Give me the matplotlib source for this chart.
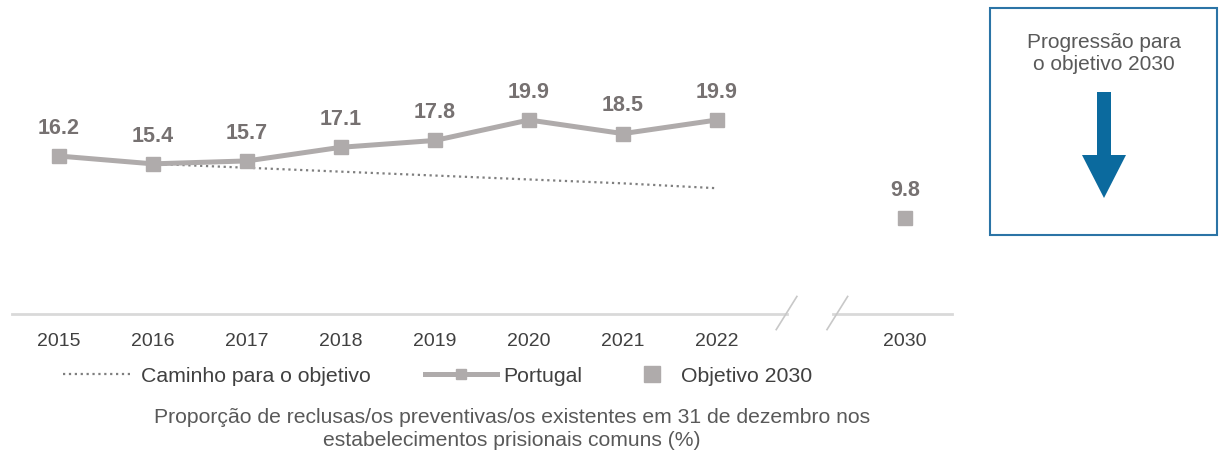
import matplotlib.pyplot as plt
from matplotlib.lines import Line2D
from matplotlib.patches import Rectangle, FancyArrow

plt.rcParams['font.family'] = ['Liberation Sans', 'DejaVu Sans']

# Data
years = ['2015', '2016', '2017', '2018', '2019', '2020', '2021', '2022']
portugal = [16.2, 15.4, 15.7, 17.1, 17.8, 19.9, 18.5, 19.9]
path_years = ['2016', '2017', '2018', '2019', '2020', '2021', '2022']
path_values = [15.4, 15.0, 14.6, 14.2, 13.8, 13.4, 12.9]
target_year = '2030'
target_value = 9.8

line_col = '#AFABAB'
label_col = '#767171'
text_col = '#404040'
blue = '#0B6A9E'

fig = plt.figure(figsize=(12.19, 4.57), dpi=100)
ax = fig.add_axes([12 / 1219, 1 - 314 / 457, 940 / 1219, 292.5 / 457])

pos = {y: i for i, y in enumerate(years)}
pos[target_year] = len(years) + 1

xs = [pos[y] for y in years]
xp = [pos[y] for y in path_years]

ax.plot(xp, path_values, ls=':', color='#7F7F7F', lw=1.6, zorder=2)
ax.plot(xs, portugal, color=line_col, lw=3.6, marker='s', ms=9.5, zorder=3)
ax.plot([pos[target_year]], [target_value], ls='none', marker='s', ms=9.5,
        color=line_col, zorder=3)

for x, v in zip(xs + [pos[target_year]], portugal + [target_value]):
    ax.annotate(f'{v:.1f}', xy=(x, v), xytext=(0, 20), textcoords='offset points',
                ha='center', va='center', fontsize=15.5, fontweight='bold',
                color=label_col)

ax.set_xlim(-0.5, 9.5)
ax.set_ylim(0, 30)
for s in ax.spines.values():
    s.set_visible(False)
ax.set_yticks([])
ax.set_xticks(xs + [pos[target_year]])
ax.set_xticklabels(years + [target_year])
ax.tick_params(axis='x', length=0, pad=14, labelsize=14, labelcolor=text_col)

# axis line with a break between 2022 and 2030
ax.plot([-0.5, 7.74], [0, 0], color='#D9D9D9', lw=2, clip_on=False, zorder=1)
ax.plot([8.23, 9.5], [0, 0], color='#D9D9D9', lw=2, clip_on=False, zorder=1)
for bx in (7.74, 8.28):
    ax.plot([bx - 0.11, bx + 0.11], [-1.6, 1.8], color='#C8C8C8', lw=1.2,
            clip_on=False, zorder=1)

# legend, one entry at a time
entries = [
    (Line2D([], [], ls=':', color='#7F7F7F', lw=1.6), 'Caminho para o objetivo', 63, 3.2, 0.47),
    (Line2D([], [], color=line_col, lw=3.6, marker='s', ms=7), 'Portugal', 425, 3.4, 0.3),
    (Line2D([], [], ls='none', color=line_col, marker='s', ms=11), 'Objetivo 2030', 636, 1.5, 0.6),
]
for h, lab, px, hl, pad in entries:
    leg = fig.legend([h], [lab], loc='center left',
                     bbox_to_anchor=(px / 1219, 1 - 376 / 457),
                     frameon=False, handlelength=hl, handletextpad=pad,
                     borderpad=0, borderaxespad=0, prop={'size': 15.3})
    for t in leg.get_texts():
        t.set_color(text_col)

fig.text(512 / 1219, 1 - 429 / 457,
         'Proporção de reclusas/os preventivas/os existentes em 31 de dezembro nos\n'
         'estabelecimentos prisionais comuns (%)',
         ha='center', va='center', fontsize=15.2, color='#595959',
         linespacing=1.3)

# box on the right
fig.patches.append(Rectangle((990 / 1219, 1 - 235 / 457), 227 / 1219, 227 / 457,
                             transform=fig.transFigure, fill=False,
                             edgecolor='#2B74A6', lw=1.5))
fig.text(1104 / 1219, 1 - 54 / 457, 'Progressão para\no objetivo 2030',
         ha='center', va='center', fontsize=15, color='#595959',
         linespacing=1.2)
fig.patches.append(FancyArrow(11.04, 3.65, 0, -1.06, width=0.14,
                              head_width=0.44, head_length=0.43,
                              length_includes_head=True,
                              transform=fig.dpi_scale_trans,
                              color=blue, lw=0))

fig.savefig('out.png', dpi=100, facecolor='white')
